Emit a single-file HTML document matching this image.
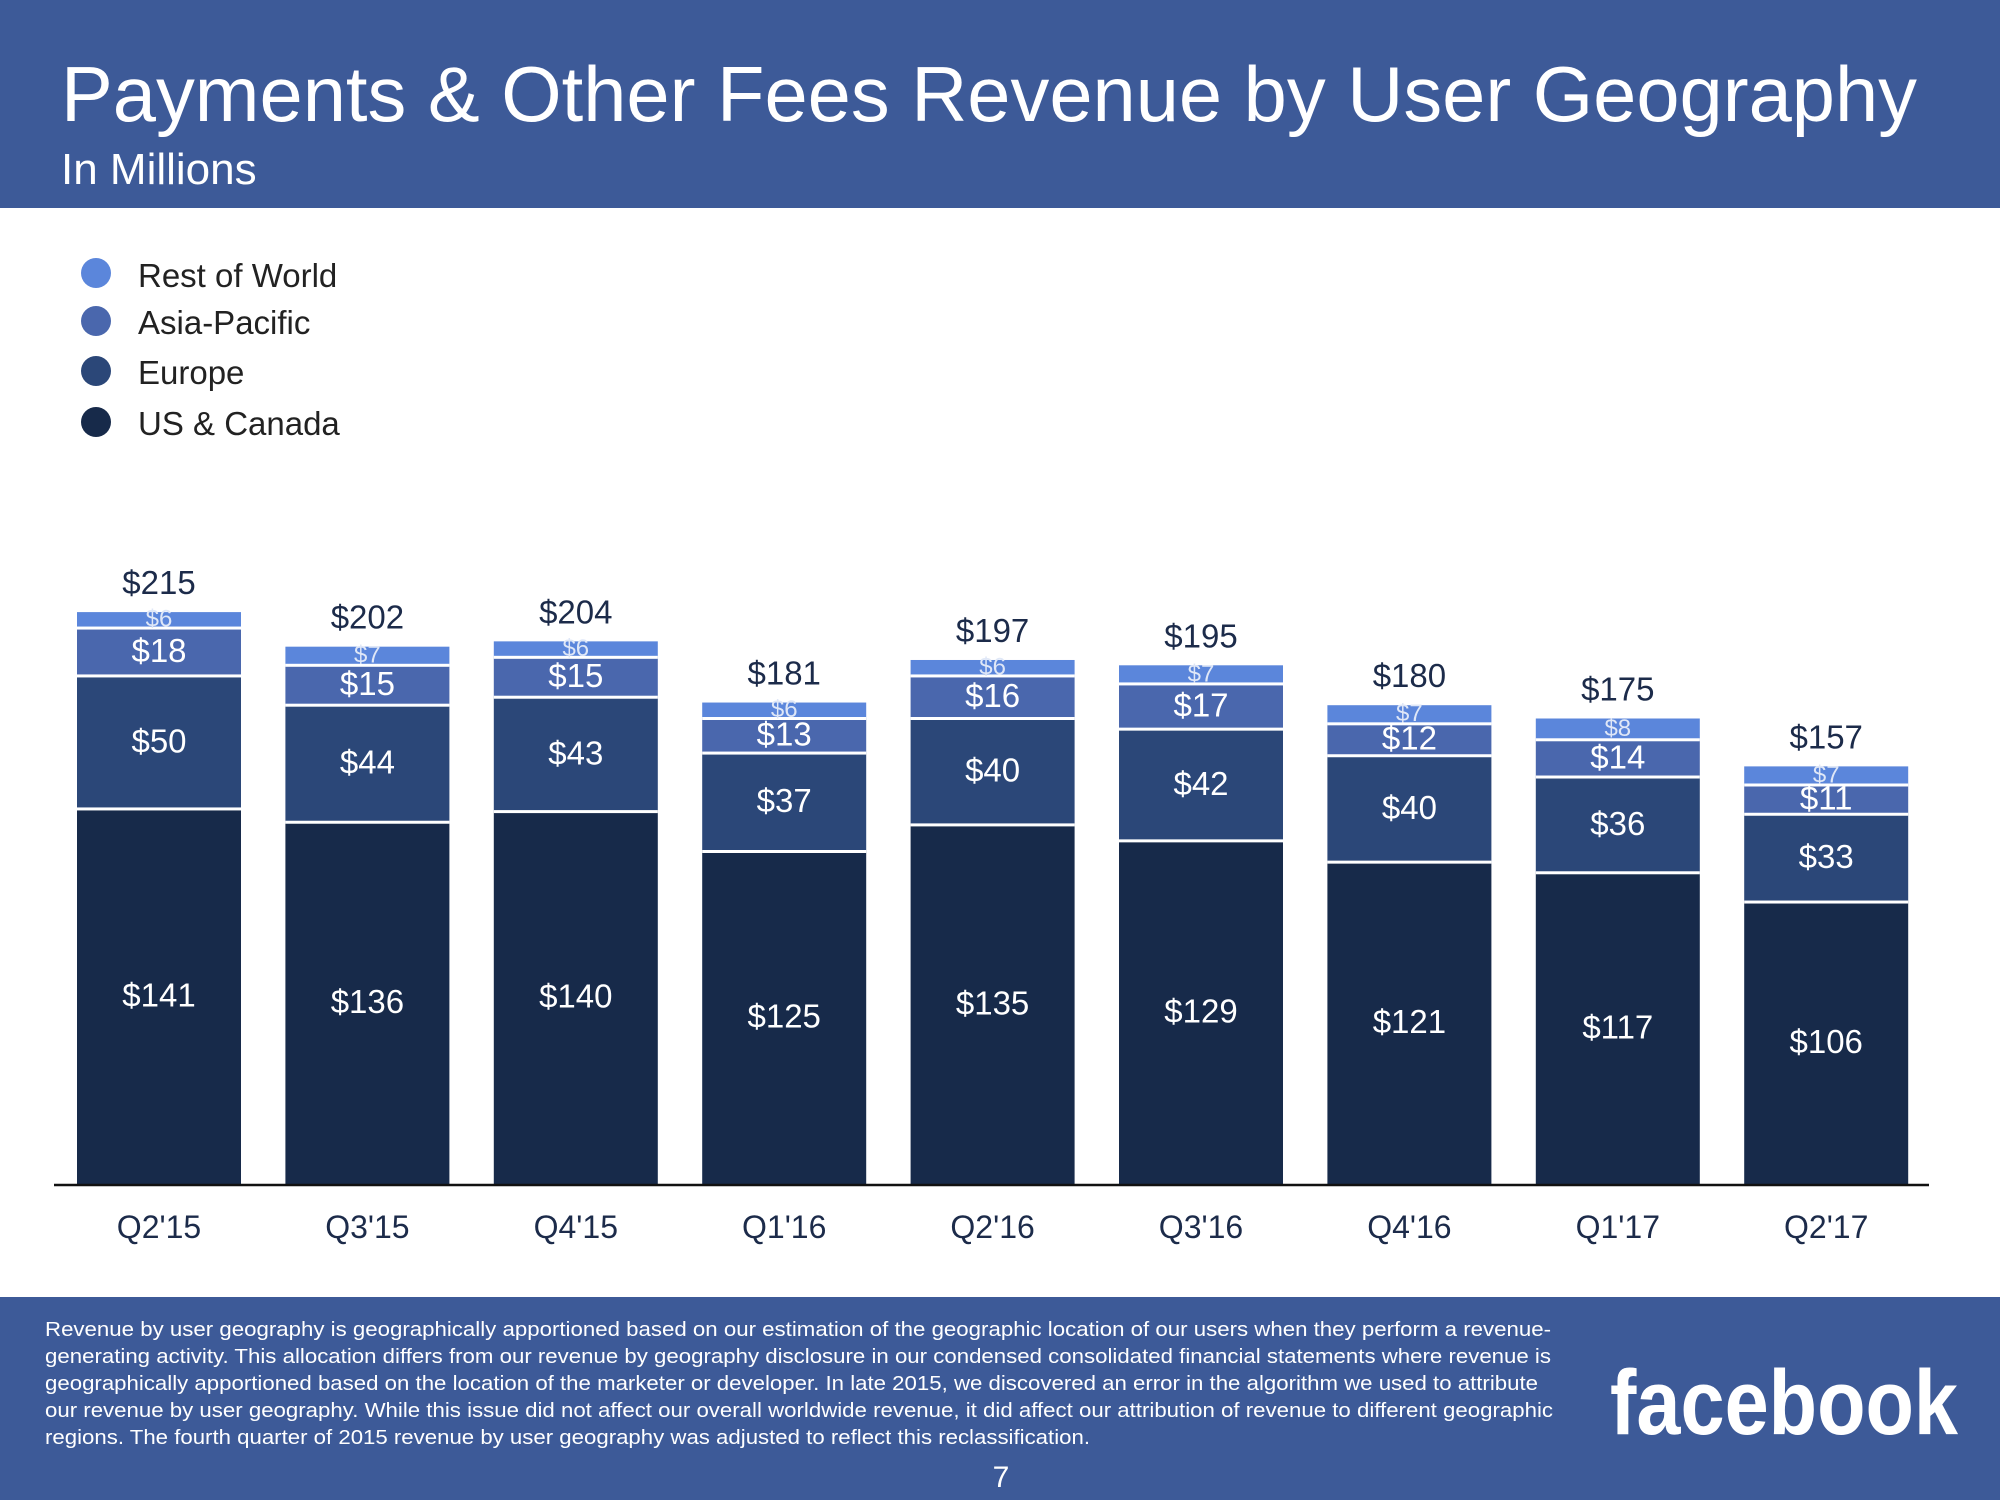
<!DOCTYPE html>
<html><head><meta charset="utf-8"><style>
html,body{margin:0;padding:0;background:#fff}
svg{display:block;font-family:"Liberation Sans",Arial,sans-serif}
</style></head><body>
<svg id="chart" width="2000" height="1500" viewBox="0 0 2000 1500" xmlns="http://www.w3.org/2000/svg">
<rect x="0" y="0" width="2000" height="208" fill="#3d5a98"/>
<text x="61" y="121" font-size="78" fill="#fff" textLength="1856" lengthAdjust="spacingAndGlyphs">Payments &amp; Other Fees Revenue by User Geography</text>
<text x="61" y="184" font-size="44" fill="#fff">In Millions</text>
<g>
<circle cx="96" cy="273" r="15" fill="#5b86db"/>
<text x="138" y="287" font-size="33" fill="#222">Rest of World</text>
<circle cx="96" cy="321" r="15" fill="#4a67ad"/>
<text x="138" y="334" font-size="33" fill="#222">Asia-Pacific</text>
<circle cx="96" cy="371" r="15" fill="#2b4778"/>
<text x="138" y="384" font-size="33" fill="#222">Europe</text>
<circle cx="96" cy="422" r="15" fill="#172a4a"/>
<text x="138" y="435" font-size="33" fill="#222">US &amp; Canada</text>
</g>
<g id="bars"></g>
<line x1="54" y1="1185" x2="1929" y2="1185" stroke="#111" stroke-width="2.5"/>
<g id="xlabels"></g>
<rect x="0" y="1297" width="2000" height="203" fill="#3d5a98"/>
<g font-size="20.5" fill="#fff">
<text x="45" y="1336" textLength="1506" lengthAdjust="spacingAndGlyphs">Revenue by user geography is geographically apportioned based on our estimation of the geographic location of our users when they perform a revenue-</text>
<text x="45" y="1363" textLength="1506" lengthAdjust="spacingAndGlyphs">generating activity. This allocation differs from our revenue by geography disclosure in our condensed consolidated financial statements where revenue is</text>
<text x="45" y="1390" textLength="1493" lengthAdjust="spacingAndGlyphs">geographically apportioned based on the location of the marketer or developer. In late 2015, we discovered an error in the algorithm we used to attribute</text>
<text x="45" y="1417" textLength="1508" lengthAdjust="spacingAndGlyphs">our revenue by user geography. While this issue did not affect our overall worldwide revenue, it did affect our attribution of revenue to different geographic</text>
<text x="45" y="1444" textLength="1045" lengthAdjust="spacingAndGlyphs">regions. The fourth quarter of 2015 revenue by user geography was adjusted to reflect this reclassification.</text>
</g>
<text x="1610" y="1434" font-size="92" font-weight="bold" fill="#fff" textLength="348" lengthAdjust="spacingAndGlyphs">facebook</text>
<text x="1001" y="1487" font-size="30" fill="#fff" text-anchor="middle">7</text>
</svg>
<script>
const categories = ["Q2'15","Q3'15","Q4'15","Q1'16","Q2'16","Q3'16","Q4'16","Q1'17","Q2'17"];
const usCanada = [141,136,140,125,135,129,121,117,106];
const europe = [50,44,43,37,40,42,40,36,33];
const asiaPacific = [18,15,15,13,16,17,12,14,11];
const restOfWorld = [6,7,6,6,6,7,7,8,7];
const totals = [215,202,204,181,197,195,180,175,157];

const NS = "http://www.w3.org/2000/svg";
const baseY = 1184, pxPerUnit = 2.66;
const firstCenter = 159, pitch = 208.4, barW = 164;
function xCenter(i){ return firstCenter + i*pitch; }
function yScale(v){ return baseY - v*pxPerUnit; }
const series = [
  {name:'us-canada', vals:usCanada, color:'#172a4a', fs:33},
  {name:'europe', vals:europe, color:'#2b4778', fs:33},
  {name:'asia-pacific', vals:asiaPacific, color:'#4a67ad', fs:33},
  {name:'rest-of-world', vals:restOfWorld, color:'#5b86db', fs:24}
];
const gb = document.getElementById('bars');
const gx = document.getElementById('xlabels');
categories.forEach((c,i)=>{
  let cum = 0;
  const cx = xCenter(i);
  series.forEach(s=>{
    const v = s.vals[i];
    const y0 = yScale(cum), y1 = yScale(cum+v);
    const r = document.createElementNS(NS,'rect');
    
    
    r.setAttribute('x', cx-barW/2);
    r.setAttribute('width', barW);
    r.setAttribute('y', y1);
    r.setAttribute('height', Math.max(0, y0-y1));
    r.setAttribute('fill', s.color);
    gb.appendChild(r);
    if(cum>0){
      const ln = document.createElementNS(NS,'rect');
      
      
      ln.setAttribute('x', cx-barW/2);
      ln.setAttribute('width', barW);
      ln.setAttribute('y', y0-1.5);
      ln.setAttribute('height', 3);
      ln.setAttribute('fill', '#fff');
      gb.appendChild(ln);
    }
    const t = document.createElementNS(NS,'text');
    
    
    t.setAttribute('x', cx);
    t.setAttribute('y', (y0+y1)/2 + s.fs*0.36 - 2);
    t.setAttribute('text-anchor', 'middle');
    t.setAttribute('font-size', s.fs);
    t.setAttribute('fill', s.name==='rest-of-world' ? '#dfe7f7' : '#fff');
    t.textContent = '$'+v;
    gb.appendChild(t);
    cum += v;
  });
  const tt = document.createElementNS(NS,'text');
  
  
  tt.setAttribute('x', cx);
  tt.setAttribute('y', yScale(totals[i]) - 18);
  tt.setAttribute('text-anchor', 'middle');
  tt.setAttribute('font-size', 33);
  tt.setAttribute('fill', '#1c2b4a');
  tt.textContent = '$'+totals[i];
  gb.appendChild(tt);
  const xl = document.createElementNS(NS,'text');
  
  
  xl.setAttribute('x', cx);
  xl.setAttribute('y', 1238);
  xl.setAttribute('text-anchor', 'middle');
  xl.setAttribute('font-size', 32);
  xl.setAttribute('fill', '#1c2b4a');
  xl.textContent = c;
  gx.appendChild(xl);
});
</script>
</body></html>
